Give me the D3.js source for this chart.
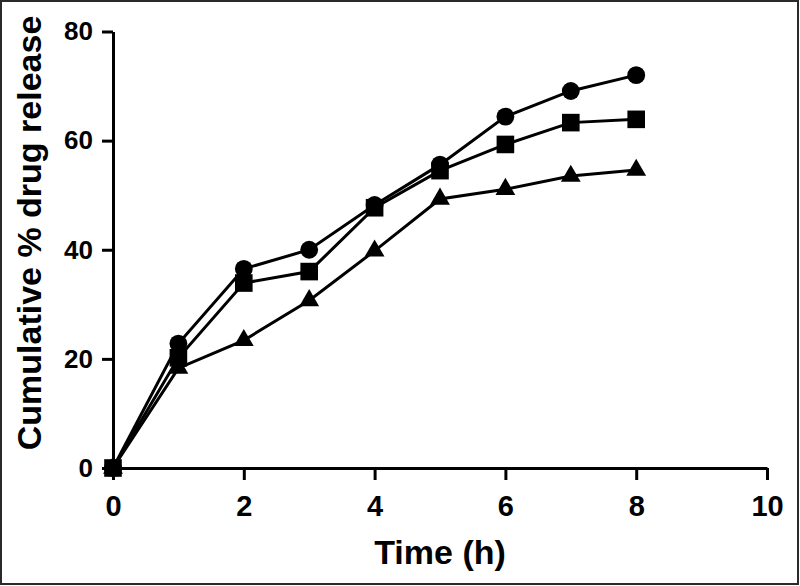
<!DOCTYPE html>
<html>
<head>
<meta charset="utf-8">
<script src="https://cdn.jsdelivr.net/npm/d3@7"></script>
<style>
  body { margin: 0; background: #fff; }
  svg { display: block; }
  .axis path, .axis line { stroke: #000; stroke-width: 3; }
  .axis text { font-family: Arial, "Liberation Sans", sans-serif; font-weight: bold; fill: #000; }
</style>
</head>
<body>
<div class="svg_container"></div>
<script>
// data
var hours = [0, 1, 2, 3, 4, 5, 6, 7, 8];
var circleSeries = [0, 22.8, 36.5, 40.0, 48.2, 55.6, 64.4, 69.1, 72.0];
var squareSeries = [0, 20.2, 33.9, 36.0, 47.7, 54.5, 59.3, 63.3, 63.9];
var triangleSeries = [0, 18.3, 23.4, 30.7, 39.8, 49.3, 51.1, 53.5, 54.6];
var xTicks = [0, 2, 4, 6, 8, 10];
var yTicks = [0, 20, 40, 60, 80];

var width = 800, height = 586;

var x = d3.scaleLinear().domain([0, 10]).range([113, 767]);
var y = d3.scaleLinear().domain([0, 80]).range([468, 31.5]);

var svg = d3.select(".svg_container").append("svg")
  .attr("width", width)
  .attr("height", height);

// frame round the picture
svg.append("rect")
  .attr("x", 1).attr("y", 1)
  .attr("width", width - 3).attr("height", height - 3)
  .attr("fill", "none")
  .attr("stroke", "#2a2a2a")
  .attr("stroke-width", 2);

// axes
var xAxis = svg.append("g")
  .attr("class", "axis")
  .attr("transform", "translate(0," + y(0) + ")")
  .call(d3.axisBottom(x).tickValues(xTicks).tickSize(12).tickPadding(15).tickSizeOuter(0));
xAxis.selectAll("text").style("font-size", "29px");

var yAxis = svg.append("g")
  .attr("class", "axis")
  .attr("transform", "translate(" + x(0) + ",0)")
  .call(d3.axisLeft(y).tickValues(yTicks).tickSize(11).tickPadding(9).tickSizeOuter(0));
yAxis.selectAll("text").style("font-size", "26px");

// axis titles
svg.append("text")
  .attr("x", x(5))
  .attr("y", 564)
  .attr("text-anchor", "middle")
  .style("font-family", "Arial, 'Liberation Sans', sans-serif")
  .style("font-weight", "bold")
  .style("font-size", "34px")
  .text("Time (h)");

svg.append("text")
  .attr("transform", "translate(41," + 233 + ") rotate(-90)")
  .attr("text-anchor", "middle")
  .style("font-family", "Arial, 'Liberation Sans', sans-serif")
  .style("font-weight", "bold")
  .style("font-size", "34px")
  .text("Cumulative % drug release");

// series
var series = [
  { values: circleSeries, symbol: d3.symbolCircle, size: 250 },
  { values: squareSeries, symbol: d3.symbolSquare, size: 310 },
  { values: triangleSeries, symbol: d3.symbolTriangle, size: 170 }
];

var line = d3.line()
  .x(function(d) { return x(d.h); })
  .y(function(d) { return y(d.v); });

series.forEach(function(s) {
  var pts = hours.map(function(h, i) { return { h: h, v: s.values[i] }; });

  svg.append("path")
    .datum(pts)
    .attr("fill", "none")
    .attr("stroke", "#000")
    .attr("stroke-width", 3)
    .attr("d", line);

  svg.selectAll(null)
    .data(pts)
    .enter().append("path")
    .attr("transform", function(d) { return "translate(" + x(d.h) + "," + y(d.v) + ")"; })
    .attr("d", d3.symbol().type(s.symbol).size(s.size))
    .attr("fill", "#000");
});
</script>
</body>
</html>
